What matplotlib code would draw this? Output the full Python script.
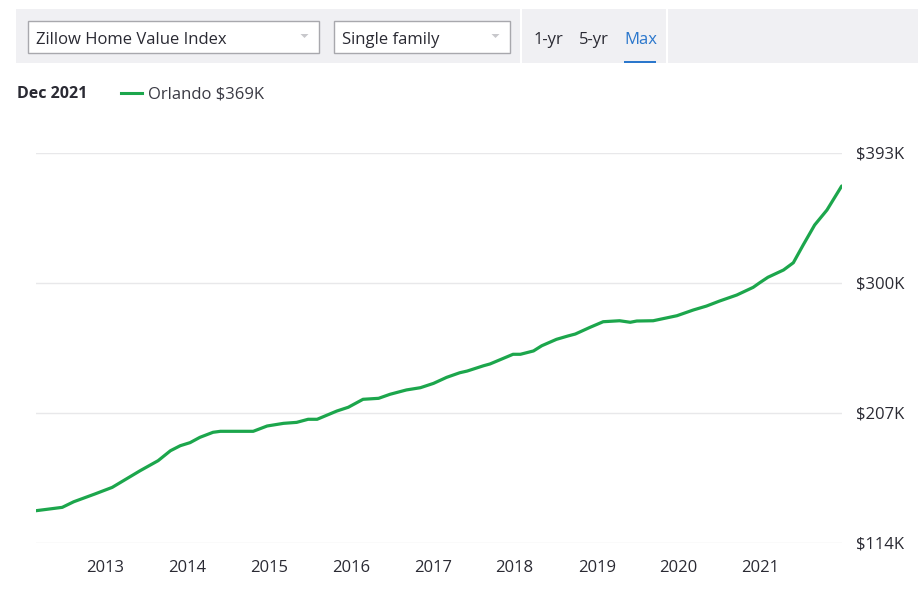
import matplotlib
matplotlib.use("Agg")
import matplotlib.pyplot as plt
from matplotlib.patches import Rectangle, Polygon

plt.rcParams['font.family'] = ['Open Sans', 'DejaVu Sans']

# Orlando single family ZHVI (decimal year, $K)
years = [2012.16, 2012.48, 2012.62, 2012.88, 2013.09, 2013.43, 2013.65, 2013.80,
         2013.92, 2014.04, 2014.16, 2014.32, 2014.41, 2014.81, 2014.98, 2015.18,
         2015.34, 2015.48, 2015.59, 2015.83, 2015.97, 2016.15, 2016.34, 2016.48,
         2016.68, 2016.85, 2017.01, 2017.17, 2017.33, 2017.42, 2017.62, 2017.70,
         2017.98, 2018.07, 2018.23, 2018.33, 2018.51, 2018.65, 2018.74, 2018.92,
         2019.08, 2019.28, 2019.41, 2019.49, 2019.69, 2019.98, 2020.18, 2020.34,
         2020.50, 2020.71, 2020.91, 2020.99, 2021.09, 2021.28, 2021.40, 2021.52,
         2021.66, 2021.81, 2021.99]
values = [137.1, 139.5, 143.5, 149.1, 153.8, 165.7, 172.9, 180.0,
          183.6, 185.8, 189.6, 193.2, 193.9, 193.9, 197.7, 199.6,
          200.3, 202.5, 202.5, 208.4, 211.1, 216.8, 217.5, 220.4,
          223.5, 225.1, 228.2, 232.5, 235.8, 237.0, 240.8, 242.1,
          249.0, 249.0, 251.4, 255.1, 259.7, 262.1, 263.5, 268.3,
          272.3, 273.0, 271.9, 272.8, 273.0, 276.6, 280.7, 283.5,
          287.1, 291.4, 296.9, 300.2, 304.1, 309.3, 314.5, 327.2,
          341.5, 352.2, 369.4]

x_ticks = [2013, 2014, 2015, 2016, 2017, 2018, 2019, 2020, 2021]
y_ticks = [114, 207, 300, 393]
y_labels = ["$114K", "$207K", "$300K", "$393K"]

GREEN = "#1ca64c"
TEXT = "#2a2a33"
W, H = 918, 604

fig = plt.figure(figsize=(W / 100, H / 100), dpi=100)

# overlay in pixel coords for the header controls
ov = fig.add_axes([0, 0, 1, 1], zorder=0)
ov.set_xlim(0, W)
ov.set_ylim(H, 0)
ov.axis("off")

ov.add_patch(Rectangle((16, 9), W - 16, 54, facecolor="#f0f0f3", edgecolor="none"))
ov.add_patch(Rectangle((520, 9), 2, 54, facecolor="white", edgecolor="none"))
ov.add_patch(Rectangle((666, 9), 2, 54, facecolor="white", edgecolor="none"))

for x0, x1, label in [(27.5, 318.5, "Zillow Home Value Index"), (334, 509.5, "Single family")]:
    ov.add_patch(Rectangle((x0, 20.5), x1 - x0, 32, facecolor="white",
                           edgecolor="#a8a8ad", linewidth=1))
    ov.text(x0 + 8, 43.5, label, fontsize=12, color=TEXT, va="baseline", ha="left")
    ax_ = x1 - 14
    ov.add_patch(Polygon([(ax_ - 4, 34), (ax_ + 4, 34), (ax_, 38)], closed=True,
                         facecolor="#c8c8cc", edgecolor="none"))

ov.text(534, 44, "1-yr", fontsize=12, color=TEXT, va="baseline", ha="left")
ov.text(579, 44, "5-yr", fontsize=12, color=TEXT, va="baseline", ha="left")
ov.text(624, 44, "Max", fontsize=12, color="#2b77cc", va="baseline", ha="left")
ov.add_patch(Rectangle((624, 60.5), 32, 2.5, facecolor="#2b77cc", edgecolor="none"))

ov.text(17, 98.5, "Dec 2021", fontsize=11.5, fontweight="bold", color=TEXT,
        va="baseline", ha="left")
ov.plot([121, 142], [93, 93], color=GREEN, linewidth=2.2)
ov.text(148, 98.5, "Orlando $369K", fontsize=12, color="#3a3a44", va="baseline", ha="left")

# main chart
ax = fig.add_axes([36 / W, (H - 543) / H, (841.7 - 36) / W, (543 - 153) / H], zorder=1)
ax.patch.set_alpha(0)
ax.plot(years, values, color=GREEN, linewidth=2.3, solid_capstyle="round")
ax.set_xlim(years[0], years[-1])
ax.set_ylim(114, 393)
ax.set_xticks(x_ticks)
ax.set_xticklabels([str(y) for y in x_ticks])
ax.set_yticks(y_ticks)
ax.set_yticklabels(y_labels)
ax.yaxis.tick_right()
ax.tick_params(axis="y", length=0, pad=10, labelsize=12, labelcolor=TEXT)
ax.tick_params(axis="x", length=0, pad=12, labelsize=12, labelcolor=TEXT)
ax.grid(axis="y", color="#e8e8ea", linewidth=1)
ax.set_axisbelow(True)
for s in ax.spines.values():
    s.set_visible(False)

fig.savefig("out.png", dpi=100)
